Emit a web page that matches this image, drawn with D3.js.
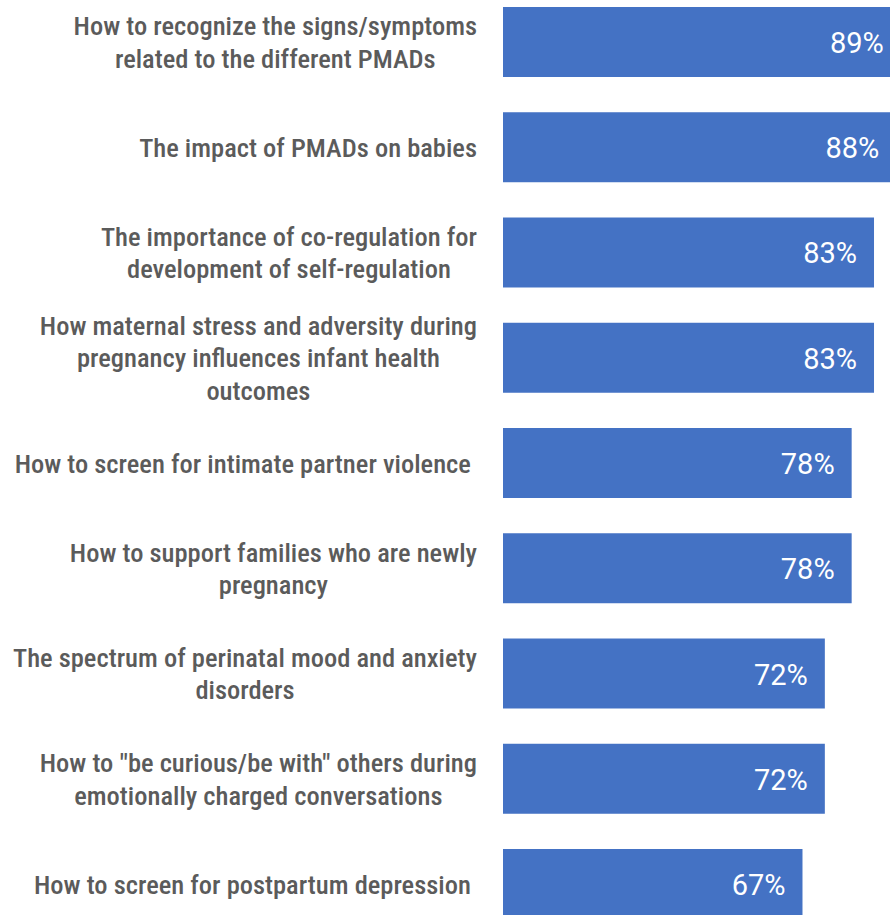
<!DOCTYPE html>
<html>
<head>
<meta charset="utf-8">
<script src="https://cdn.jsdelivr.net/npm/d3@7"></script>
<style>
  html, body { margin: 0; padding: 0; background: #fff; }
  svg { display: block; }
</style>
</head>
<body>
<div id="chart"></div>
<script>
// topics, each split into the lines shown in the picture
const topics = [
  ["How to recognize the signs/symptoms", "related to the different PMADs"],
  ["The impact of PMADs on babies"],
  ["The importance of co-regulation for", "development of self-regulation"],
  ["How maternal stress and adversity during", "pregnancy influences infant health", "outcomes"],
  ["How to screen for intimate partner violence "],
  ["How to support families who are newly", "pregnancy"],
  ["The spectrum of perinatal mood and anxiety", "disorders"],
  ["How to \"be curious/be with\" others during", "emotionally charged conversations"],
  ["How to screen for postpartum depression "]
];
const percents = [89, 88, 83, 83, 78, 78, 72, 72, 67];

const width = 890, height = 915;

const svg = d3.select("#chart")
  .append("svg")
  .attr("width", width)
  .attr("height", height);

// x: 0..100 %, bars start at 503
let x = d3.scaleLinear()
  .domain([0, 100])
  .range([503, 950]);

let y = d3.scaleBand()
  .domain(d3.range(topics.length))
  .range([7, 919])
  .paddingInner(0.335)
  .paddingOuter(0);

// bars
svg.selectAll("rect.bar")
  .data(percents)
  .enter()
  .append("rect")
  .attr("class", "bar")
  .attr("x", x(0))
  .attr("y", (d, i) => y(i))
  .attr("width", d => x(d) - x(0))
  .attr("height", y.bandwidth())
  .attr("fill", "#4472C4");

// value labels inside bar ends
svg.selectAll("text.value")
  .data(percents)
  .enter()
  .append("text")
  .attr("class", "value")
  .attr("x", d => x(d) - 17)
  .attr("y", (d, i) => y(i) + y.bandwidth() / 2 + 1)
  .attr("text-anchor", "end")
  .attr("dominant-baseline", "central")
  .style("font-family", "Roboto, 'Liberation Sans', sans-serif")
  .style("font-size", "29px")
  .style("fill", "#fff")
  .text(d => d + "%");

// category labels: block right-aligned at labelRight, lines centred in block
const labelRight = 477, lineH = 32.5;
const labelGroups = svg.selectAll("g.label")
  .data(topics)
  .enter()
  .append("g")
  .attr("class", "label");

labelGroups.each(function (lines, i) {
  let g = d3.select(this);
  let cy = y(i) + y.bandwidth() / 2;
  let texts = lines.map((line, k) => g.append("text")
    .attr("y", cy + (k - (lines.length - 1) / 2) * lineH)
    .attr("dominant-baseline", "central")
    .attr("text-anchor", "middle")
    .style("white-space", "pre")
    .style("font-family", "'Roboto Condensed', 'Liberation Sans Narrow', sans-serif")
    .style("font-weight", "500")
    .style("font-size", "26.5px")
    .style("fill", "#5b5b5b")
    .text(line));
  let maxW = d3.max(texts, t => t.node().getComputedTextLength());
  texts.forEach(t => t.attr("x", labelRight - maxW / 2));
});
</script>
</body>
</html>
